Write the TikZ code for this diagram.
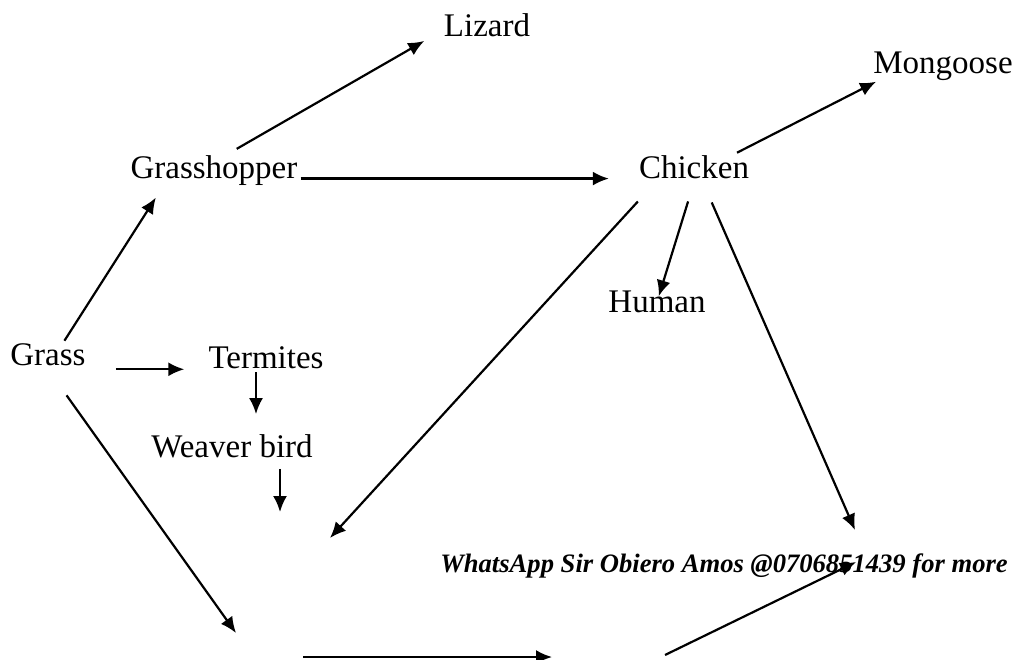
\documentclass[tikz,border=0pt]{standalone}
\usepackage{fontspec}
\setmainfont{Liberation Serif}
\usetikzlibrary{arrows.meta}

\begin{document}
\begin{tikzpicture}[x=1pt, y=-1pt,
    food/.style={font=\fontsize{33}{38}\selectfont, inner sep=3pt},
    eats/.style={-{Latex[length=16pt,width=14pt]}, line width=2.2pt}]
  \useasboundingbox (0,0) rectangle (1014,660);
  \node[food] (Lizard) at (487,25) {Lizard};
  \node[food] (Mongoose) at (943,66) {Mongoose};
  \node[food] (Grasshopper) at (214,171) {Grasshopper};
  \node[food] (Chicken) at (694,167.5) {Chicken};
  \node[food] (Human) at (657,302) {Human};
  \node[food] (Grass) at (48,355) {Grass};
  \node[food] (Termites) at (266,358) {Termites};
  \node[food] (Weaver) at (232,446) {Weaver bird};
  \node[font=\fontsize{26.6}{32}\selectfont\bfseries\itshape, inner sep=0pt] (note) at (724,566)
    {WhatsApp Sir Obiero Amos @0706851439 for more};
  \coordinate (W1) at (280,512);
  \coordinate (C1) at (330,538);
  \coordinate (C2) at (855,530);
  \coordinate (G1) at (236,633);
  \coordinate (B1) at (303,657);
  \coordinate (B2) at (552,657);
  \coordinate (B3) at (665,655);
  \coordinate (B4) at (856,562);
  \draw[eats, shorten <=8pt, shorten >=19pt] (Grasshopper.49) -- (Lizard.188);
  \draw[eats, shorten >=-4pt] (Chicken.19) -- (Mongoose.194);
  \draw[eats, shorten >=27pt] (Grasshopper.-5) -- (Grasshopper.-5 -| Chicken.west);
  \draw[eats, shorten >=10pt] (Grass.41) -- (Grasshopper.199);
  \draw[eats, shorten <=27pt, shorten >=21pt] (Grass.south east) -- (Grass.south east -| Termites.west);
  \draw[eats, shorten >=17pt] ([xshift=-10pt]Termites.south) -- ([xshift=-10pt]Termites.south |- Weaver.north);
  \draw[eats, shorten <=8pt] ([xshift=48pt]Weaver.south) -- (W1);
  \draw[eats, shorten <=26pt] (Chicken.201) -- (C1);
  \draw[eats, shorten <=20pt, shorten >=6pt] (Chicken.south) -- (Human.center);
  \draw[eats, shorten <=22pt] (Chicken.-59) -- (C2);
  \draw[eats, shorten <=32pt] (Grass.south) -- (G1);
  \draw[eats] (B1) -- (B2);
  \draw[eats] (B3) -- (B4);
\end{tikzpicture}
\end{document}
